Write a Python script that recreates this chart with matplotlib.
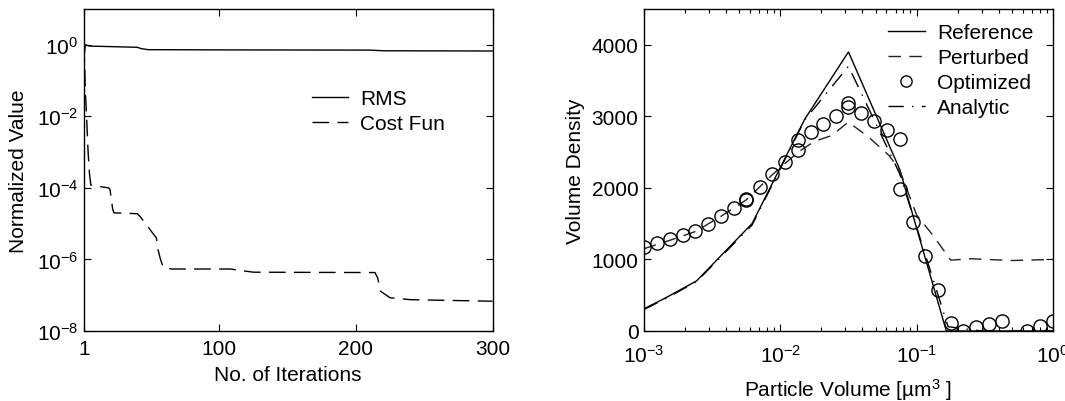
import matplotlib
matplotlib.use('Agg')
import matplotlib.pyplot as plt
from matplotlib.ticker import FixedLocator, NullLocator, LogLocator, NullFormatter

plt.rcParams['font.family'] = ['Liberation Sans', 'DejaVu Sans']
plt.rcParams['mathtext.fontset'] = 'custom'
plt.rcParams['mathtext.rm'] = 'Liberation Sans'
plt.rcParams['mathtext.it'] = 'Liberation Sans:italic'
plt.rcParams['mathtext.default'] = 'regular'

# ---------------- data: left panel ----------------
rms_iter = [1, 2, 5, 30, 40, 43, 48, 100, 210, 220, 300]
rms_val = [0.45, 1.0, 0.92, 0.87, 0.85, 0.78, 0.73, 0.72, 0.71, 0.68, 0.67]

cost_iter = [1, 2, 3, 4, 5, 6, 12, 19, 20, 21, 22, 23, 40, 42, 48, 52, 54, 55, 57, 59,
             65, 108, 125, 214, 216, 218, 225, 240, 300]
cost_val = [1.0, 0.05, 0.008, 1e-3, 2.5e-4, 1.2e-4, 1.1e-4, 1.0e-4, 9e-5, 5e-5, 2.5e-5,
            2e-5, 1.9e-5, 1.6e-5, 8e-6, 5e-6, 4e-6, 2e-6, 1e-6, 6e-7,
            5.4e-7, 5.4e-7, 4.4e-7, 4.3e-7, 3e-7, 1.3e-7, 8.5e-8, 7.5e-8, 6.8e-8]

left_xticks = [1, 100, 200, 300]
left_yticks = [1e-8, 1e-6, 1e-4, 1e-2, 1e0]

# ---------------- data: right panel ----------------
ref_x = [1e-3, 1.43e-3, 2.43e-3, 6.2e-3, 1.51e-2, 3.16e-2, 7.5e-2, 1.65e-1, 1.0]
ref_y = [310, 460, 700, 1500, 2960, 3900, 2260, 0, 0]

pert_x = [1e-3, 1.56e-3, 2.38e-3, 3.65e-3, 5.6e-3, 8.8e-3, 1.35e-2, 1.78e-2, 2.37e-2,
          3.16e-2, 4.5e-2, 6.3e-2, 7.5e-2, 0.1, 0.13, 0.178, 0.25, 0.5, 1.0]
pert_y = [1150, 1270, 1390, 1600, 1830, 2190, 2500, 2650, 2730,
          2920, 2700, 2450, 2250, 1620, 1350, 990, 1010, 985, 1000]

opt_x = [1.0e-3, 1.25e-3, 1.56e-3, 1.94e-3, 2.38e-3, 2.97e-3, 3.65e-3, 4.57e-3,
         5.59e-3, 5.62e-3, 7.04e-3, 8.76e-3, 1.08e-2, 1.35e-2, 1.35e-2, 1.67e-2,
         2.05e-2, 2.57e-2, 3.16e-2, 3.16e-2, 3.91e-2, 4.87e-2, 6.03e-2, 7.5e-2,
         7.5e-2, 9.39e-2, 0.1155, 0.143, 0.18, 0.22, 0.274, 0.339, 0.42, 0.65,
         0.80, 1.0]
opt_y = [1177, 1223, 1279, 1335, 1395, 1502, 1605, 1712,
         1837, 1846, 2009, 2200, 2358, 2526, 2665, 2777,
         2893, 3009, 3186, 3130, 3047, 2930, 2814, 2684,
         1991, 1521, 1047, 567, 116, 0, 56, 93, 140, 0,
         70, 140]

ana_x = [1e-3, 1.43e-3, 2.43e-3, 6.2e-3, 1.51e-2, 3.16e-2, 7.5e-2, 0.17, 0.3, 1.0]
ana_y = [300, 450, 690, 1480, 2950, 3700, 2200, 60, 0, 0]

right_yticks = [0, 1000, 2000, 3000, 4000]

FS = 15
fig = plt.figure(figsize=(10.65, 4.02), dpi=100)
ax1 = fig.add_axes([84 / 1065, 70 / 402, 408.5 / 1065, 322 / 402])
ax2 = fig.add_axes([644 / 1065, 70 / 402, 409 / 1065, 322 / 402])

# ---------------- left panel ----------------
ax1.plot(rms_iter, rms_val, color='black', lw=1.0, label='RMS')
ax1.plot(cost_iter, cost_val, color='black', lw=1.0, dashes=(12, 6), label='Cost Fun')
ax1.set_yscale('log')
ax1.set_xlim(1, 300)
ax1.set_ylim(1e-8, 1e1)
ax1.xaxis.set_major_locator(FixedLocator(left_xticks))
ax1.yaxis.set_major_locator(FixedLocator(left_yticks))
ax1.yaxis.set_minor_locator(NullLocator())
ax1.set_xlabel('No. of Iterations', fontsize=FS, labelpad=5)
ax1.set_ylabel('Normalized Value', fontsize=FS, labelpad=6)
ax1.legend(loc='upper left', bbox_to_anchor=(0.558, 0.751), frameon=False,
           fontsize=FS, handlelength=1.75, handletextpad=0.55, labelspacing=0.29,
           borderpad=0, borderaxespad=0)

# ---------------- right panel ----------------
ax2.plot(ref_x, ref_y, color='black', lw=1.0, label='Reference')
ax2.plot(pert_x, pert_y, color='#222222', lw=1.0, dashes=(9, 6), label='Perturbed')
ax2.plot(opt_x, opt_y, linestyle='none', marker='o', markersize=9.5,
         markerfacecolor='none', markeredgecolor='black', markeredgewidth=1.0,
         label='Optimized')
ax2.plot(ana_x, ana_y, color='black', lw=1.0, dashes=(11, 6, 1, 6), label='Analytic')
ax2.set_xscale('log')
ax2.set_xlim(1e-3, 1)
ax2.set_ylim(0, 4500)
ax2.yaxis.set_major_locator(FixedLocator(right_yticks))
ax2.xaxis.set_major_locator(LogLocator(base=10, numticks=10))
ax2.xaxis.set_minor_locator(LogLocator(base=10, subs=range(2, 10), numticks=20))
ax2.xaxis.set_minor_formatter(NullFormatter())
ax2.set_xlabel('Particle Volume [µm$^{3}$ ]', fontsize=FS, labelpad=7)
ax2.set_ylabel('Volume Density', fontsize=FS, labelpad=5)
ax2.legend(loc='upper left', bbox_to_anchor=(0.597, 0.957), frameon=False,
           fontsize=FS, handlelength=1.75, handletextpad=0.6, labelspacing=0.29,
           borderpad=0, borderaxespad=0, markerscale=0.85)

for ax in (ax1, ax2):
    ax.tick_params(which='major', direction='in', top=True, right=True,
                   length=5, width=0.8, labelsize=FS, pad=6)
    ax.tick_params(which='minor', direction='in', top=True, right=True,
                   length=3, width=0.8)
    ax.tick_params(axis='y', pad=4)
    for s in ax.spines.values():
        s.set_linewidth(1.0)
ax2.tick_params(axis='x', which='major', pad=9.5)

fig.savefig('out.png', dpi=100)
